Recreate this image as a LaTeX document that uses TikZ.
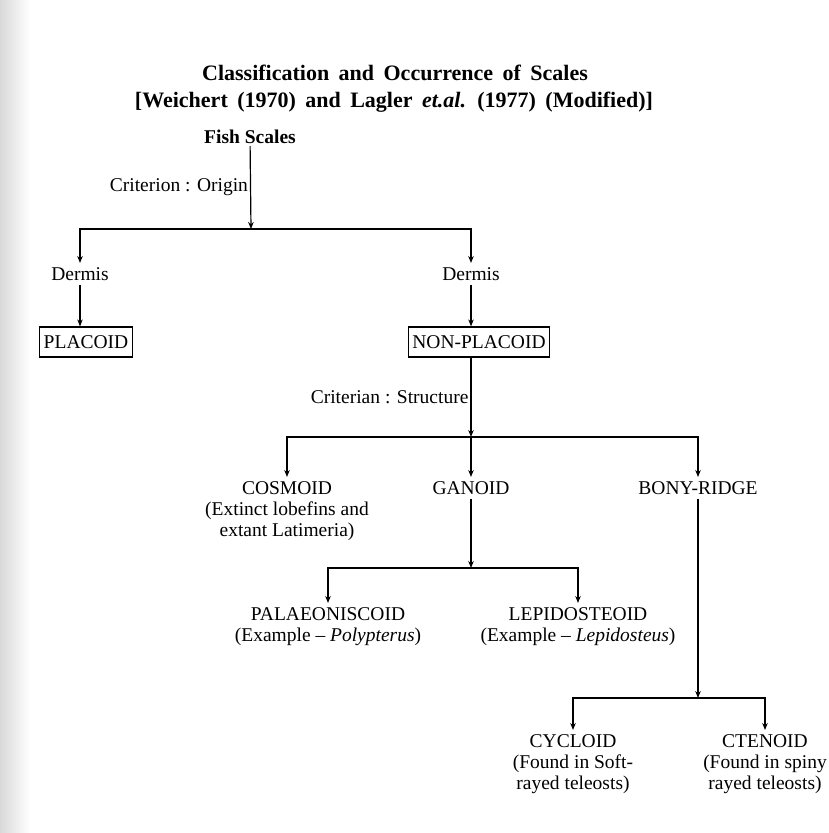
\documentclass[tikz,border=0pt]{standalone}
\usepackage{fontspec}
\setmainfont{Liberation Serif}
\usetikzlibrary{arrows.meta}

\begin{document}
\begin{tikzpicture}[
    x=1pt, y=-1pt,
    txt/.style={font=\fontsize{19.5}{21}\selectfont, align=center, inner sep=2pt},
    item/.style={txt, anchor=north, inner ysep=4pt},
    boxed/.style={txt, draw, line width=1.2pt, minimum height=30pt, inner xsep=4pt},
    titletxt/.style={font={\fontsize{22}{26}\selectfont\bfseries\spaceskip=0.43em}, inner sep=0pt},
    arrow/.style={-{Stealth[length=7pt,width=5.5pt]}, line width=1.2pt}
]
\useasboundingbox (0,0) rectangle (829,833);
% scan shading on the left edge
\shade[left color=black!15, right color=white] (0,0) rectangle (30,833);

% Title
\node[titletxt] (title1) at (395,73) {Classification and Occurrence of Scales};
\node[titletxt] (title2) at (394,102) {{[}Weichert (1970) and Lagler \textit{et.al.} (1977) (Modified)]};

% Criterion : origin
\node[txt, font={\fontsize{19.5}{21}\selectfont\bfseries}] (fish) at (250,137) {Fish Scales};
\coordinate (origin) at (251,229);
\node[item] (dermL) at (80,263) {Dermis};
\node[item] (dermR) at (471,263) {Dermis};
\node[boxed] (placoid) at (86,342) {PLACOID};
\node[boxed] (nonpl) at (479,342) {NON-PLACOID};

\draw[arrow] (fish) -- node[txt, left] {Criterion : Origin} (origin);
\draw[arrow] (origin) -| (dermL);
\draw[arrow] (origin) -| (dermR);
\draw[arrow] (dermL) -- (dermL |- placoid.north);
\draw[arrow] (dermR) -- (dermR |- nonpl.north);

% Criterion : structure
\coordinate (struct) at (471,437);
\node[item] (cosmoid) at (287,477) {COSMOID\\(Extinct lobefins and\\extant Latimeria)};
\node[item] (ganoid) at (471,477) {GANOID};
\node[item] (bony) at (698,477) {BONY-RIDGE};

\draw[arrow] (nonpl.south -| struct) -- node[txt, left] {Criterian : Structure} (struct);
\draw[arrow] (struct) -| (cosmoid);
\draw[arrow] (struct) -- (ganoid);
\draw[arrow] (struct) -| (bony);

% Ganoid scales
\coordinate (gsplit) at (471,568);
\node[item] (palaeo) at (328,603) {PALAEONISCOID\\(Example -- \textit{Polypterus})};
\node[item] (lepido) at (578,603) {LEPIDOSTEOID\\(Example -- \textit{Lepidosteus})};

\draw[arrow] (ganoid) -- (gsplit);
\draw[arrow] (gsplit) -| (palaeo);
\draw[arrow] (gsplit) -| (lepido);

% Bony-ridge scales
\coordinate (bsplit) at (698,698);
\node[item] (cycloid) at (573,730) {CYCLOID\\(Found in Soft-\\rayed teleosts)};
\node[item] (ctenoid) at (765,730) {CTENOID\\(Found in spiny\\rayed teleosts)};

\draw[arrow] (bony) -- (bsplit);
\draw[arrow] (bsplit) -| (cycloid);
\draw[arrow] (bsplit) -| (ctenoid);
\end{tikzpicture}
\end{document}
